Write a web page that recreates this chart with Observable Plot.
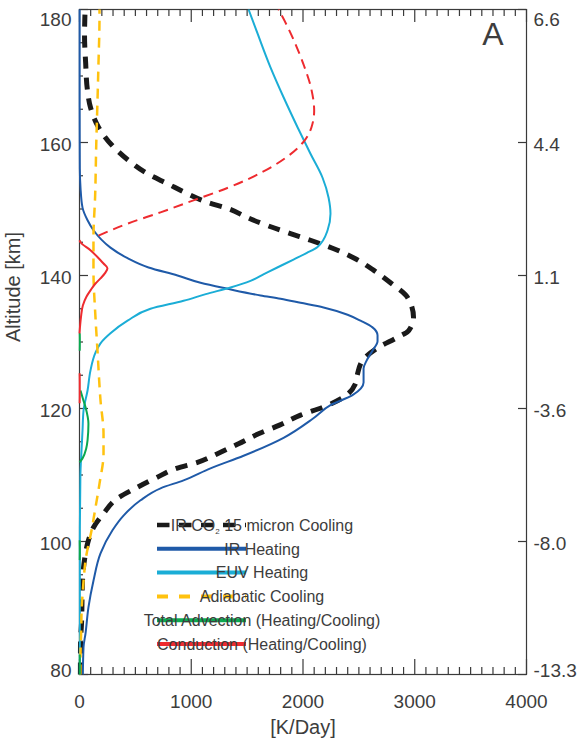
<!DOCTYPE html>
<html>
<head>
<meta charset="utf-8">
<script src="https://cdn.jsdelivr.net/npm/d3@7"></script>
<script src="https://cdn.jsdelivr.net/npm/@observablehq/plot@0.6"></script>
<style>
  body { margin: 0; background: #fff; }
  #chart { width: 582px; height: 746px; }
</style>
</head>
<body>
<div id="chart"></div>
<script>
// Heating / cooling rate profiles, altitude in km, rates in K/day.

// IR CO2 15 micron cooling (magnitude)
const irCoolAlt = [80, 84.7, 87.7, 94.1, 98.2, 100.2, 102.1, 104.2, 106.5, 108.0, 109.6, 111.0, 111.9, 113.2, 114.7, 116.2, 117.5, 119.0, 120.2, 121.7, 123.7, 125.0, 127.2, 129.2, 130.7, 131.7, 133.7, 136.7, 138.9, 140.8, 142.6, 143.8, 145.3, 146.3, 147.5, 148.7, 150.1, 151.0, 152.3, 153.8, 155.3, 157.3, 159.5, 162.3, 165.3, 168.0, 172.0, 176.0, 180];
const irCool    = [8, 9, 18, 27, 54, 80, 125, 215, 340, 501, 689, 868, 1056, 1235, 1423, 1602, 1790, 1978, 2180, 2363, 2468, 2485, 2533, 2676, 2846, 2945, 2989, 2936, 2783, 2631, 2460, 2309, 2067, 1888, 1683, 1504, 1325, 1146, 967, 788, 609, 439, 295, 170, 98, 70, 55, 45, 50];

// IR heating
const irHeatAlt = [80, 84.1, 86.2, 90.1, 94.1, 98.2, 101.7, 103.9, 106.2, 108.0, 109.2, 111.0, 112.9, 115.6, 118.5, 120.5, 122.0, 123.9, 126.0, 127.2, 128.7, 130.1, 131.0, 132.2, 133.2, 134.1, 135.2, 135.9, 136.5, 137.0, 138.0, 138.9, 140.0, 141.2, 142.6, 144.2, 146.8, 148.3, 150.2, 153.2, 156, 160, 170, 180];
const irHeat    = [30, 36, 54, 80, 125, 188, 295, 394, 546, 725, 931, 1172, 1468, 1826, 2090, 2246, 2443, 2542, 2542, 2569, 2622, 2667, 2667, 2622, 2515, 2399, 2184, 1978, 1799, 1620, 1325, 1083, 877, 618, 430, 277, 125, 72, 27, 9, 3, 2, 1, 1];

// EUV heating
const euvAlt = [80, 100, 110, 113.7, 116.7, 119.7, 122.7, 125.7, 128.4, 129.8, 131.3, 133.2, 135.0, 136.2, 137.2, 138.2, 139.2, 140.2, 141.2, 142.4, 143.4, 144.3, 146.8, 149.3, 151.7, 154.7, 158.3, 162.3, 166.8, 171.3, 176.4, 180];
const euv    = [3, 3, 8, 18, 27, 36, 72, 98, 143, 188, 277, 430, 635, 931, 1130, 1351, 1530, 1650, 1770, 1915, 2035, 2130, 2220, 2246, 2229, 2175, 2067, 1951, 1826, 1709, 1593, 1513];

// Adiabatic cooling (magnitude)
const adiabAlt = [80, 84, 87, 89.2, 93.1, 97.6, 101.7, 105.1, 108.7, 113.2, 116.2, 121.2, 128.7, 133.7, 140.8, 145.7, 152, 159.8, 166.3, 172, 178.8, 180];
const adiab    = [8, 10, 16, 18, 32, 58, 108, 143, 179, 215, 215, 188, 161, 143, 125, 125, 140, 150, 161, 170, 179, 179];

// Total advection, heating part only (null = not heating)
const advAlt = [80, 81.5, 83, 84, 97.2, 98.5, 100.2, 101, 111.9, 112.5, 114.0, 115.2, 117.7, 120.2, 121.5, 122.7, 124, 128.7, 130, 131.3];
const adv    = [3, 3, 2, null, 2, 3, 2, null, 0, 27, 60, 72, 80, 54, 30, 9, null, 2, 3, 2];

// Conduction heating (null = not heating)
const condHeatAlt = [120.8, 122, 124, 125.3, 126, 131.3, 133.7, 135.5, 136.8, 137.8, 138.8, 139.6, 140.4, 141.1, 141.8, 142.3, 143.8, 145.0, 145.3];
const condHeat    = [1, 2, 2, 1, null, 0, 13, 30, 62, 100, 143, 190, 230, 250, 215, 188, 98, 9, 0];

// Conduction cooling (magnitude)
const condCoolAlt = [146.0, 147.8, 149.5, 151.3, 153.2, 155.5, 157.7, 160.0, 162.3, 164.8, 168.0, 171.5, 174.5, 177.3, 180];
const condCool    = [170, 430, 725, 1020, 1330, 1630, 1845, 2000, 2076, 2100, 2075, 2010, 1940, 1865, 1781];

// Axis ticks and the pressure-scale labels on the right axis
const xMajor = [0, 1000, 2000, 3000, 4000];
const xMinor = d3.range(100, 4000, 100).filter(d => d % 1000 !== 0);
const yMajor = [80, 100, 120, 140, 160, 180];
const yMinor = d3.range(85, 180, 5).filter(d => d % 20 !== 0);
const rightLabels = ["-13.3", "-8.0", "-3.6", "1.1", "4.4", "6.6"];

const series = [
  {name: "IR CO\u2082 15 micron Cooling", alt: irCoolAlt, v: irCool, color: "#1a1a1a", width: 5, dash: "12,9", lw: 4.5, ldash: "12.5,9.5"},
  {name: "IR Heating", alt: irHeatAlt, v: irHeat, color: "#1f5aa8", width: 2, dash: null, lw: 4},
  {name: "EUV Heating", alt: euvAlt, v: euv, color: "#1badd6", width: 2, dash: null, lw: 4},
  {name: "Adiabatic Cooling", alt: adiabAlt, v: adiab, color: "#ffc20f", width: 2.5, dash: "10,7", lw: 4, ldash: "11,11"},
  {name: "Total Advection (Heating/Cooling)", alt: advAlt, v: adv, color: "#0aa84f", width: 2, dash: null, lw: 4},
  {name: "Conduction (Heating/Cooling)", alt: condHeatAlt, v: condHeat, color: "#ee2b2f", width: 2, dash: null, lw: 4}
];
const condCoolSeries = {alt: condCoolAlt, v: condCool, color: "#ee2b2f", width: 2, dash: "10,6"};

const rows = s => s.alt.map((a, i) => ({alt: a, v: s.v[i]}));
const lineMark = s => Plot.line(rows(s), {
  x: "v", y: "alt", stroke: s.color, strokeWidth: s.width,
  strokeDasharray: s.dash || undefined, strokeLinecap: "butt",
  curve: "monotone-y"
});

const W = 582, H = 746;
const M = {left: 79, right: 56, top: 9, bottom: 72};
const frameW = W - M.left - M.right;
const frameH = H - M.top - M.bottom;

const ink = "#3d3d3d";
const axisInk = "#3a3a3a";
const pressure = d => rightLabels[yMajor.indexOf(d)];

// short inward ticks: a full-length tick trimmed by insets to the given length
const ticksBottom = (values, len) => Plot.tickX(values, {x: d => d, insetTop: frameH - len, stroke: axisInk, strokeWidth: 1.2});
const ticksTop = (values, len) => Plot.tickX(values, {x: d => d, insetBottom: frameH - len, stroke: axisInk, strokeWidth: 1.2});
const ticksLeft = (values, len) => Plot.tickY(values, {y: d => d, insetRight: frameW - len, stroke: axisInk, strokeWidth: 1.2});
const ticksRight = (values, len) => Plot.tickY(values, {y: d => d, insetLeft: frameW - len, stroke: axisInk, strokeWidth: 1.2});

// tick labels placed at the scale positions, anchored to the frame edges
const leftLabels = (values, dy) => Plot.text(values, {y: d => d, text: d => String(d), frameAnchor: "left", textAnchor: "end", dx: -8, dy, fill: ink});
const rightTickLabels = (values, dy) => Plot.text(values, {y: d => d, text: pressure, frameAnchor: "right", textAnchor: "start", dx: 7, dy, fill: ink});

const chart = Plot.plot({
  width: W,
  height: H,
  marginLeft: M.left,
  marginRight: M.right,
  marginTop: M.top,
  marginBottom: M.bottom,
  x: {domain: [0, 4000], axis: null},
  y: {domain: [80, 180], axis: null},
  style: {fontFamily: "'Liberation Sans', Arial, Helvetica, sans-serif", fontSize: "19px", color: ink, background: "#fff"},
  marks: [
    Plot.frame({stroke: axisInk, strokeWidth: 1.2}),
    ticksBottom(xMinor, 7), ticksBottom(xMajor, 15),
    ticksTop(xMinor, 7), ticksTop(xMajor, 13),
    ticksLeft(yMinor, 4), ticksLeft(yMajor, 9),
    ticksRight(yMajor, 8),
    Plot.text(xMajor, {x: d => d, text: d => String(d), frameAnchor: "bottom", lineAnchor: "top", dy: 20, fill: ink}),
    leftLabels(yMajor.slice(1, -1), 2.5), leftLabels([180], 10), leftLabels([80], -4),
    rightTickLabels(yMajor.slice(1, -1), 2.5), rightTickLabels([180], 10), rightTickLabels([80], -4),
    // profiles
    ...series.map(lineMark),
    lineMark(condCoolSeries),
    // panel letter and axis titles
    Plot.text(["A"], {frameAnchor: "top-right", dx: -23, dy: 13, lineAnchor: "top", fontSize: 32, fill: ink}),
    Plot.text(["[K/Day]"], {frameAnchor: "bottom", dy: 59, fontSize: 20, fill: ink}),
    Plot.text(["Altitude [km]"], {frameAnchor: "left", dx: -66, rotate: -90, fontSize: 20, fill: ink})
  ]
});

document.getElementById("chart").appendChild(chart);

// Legend in the lower part of the panel
const legend = d3.select(chart).append("g")
  .attr("font-family", "'Liberation Sans', Arial, Helvetica, sans-serif")
  .attr("font-size", 16);

series.forEach((s, i) => {
  const yy = 525 + i * 23.8;
  legend.append("line")
    .attr("x1", 157).attr("x2", 246).attr("y1", yy).attr("y2", yy)
    .attr("stroke", s.color).attr("stroke-width", s.lw)
    .attr("stroke-dasharray", s.ldash || null);
  const t = legend.append("text").attr("x", 262).attr("y", yy + 5.8).attr("fill", ink);
  if (i === 0) {
    t.append("tspan").text("IR CO");
    t.append("tspan").text("2").attr("font-size", 8).attr("dy", 3);
    t.append("tspan").text(" 15 micron Cooling").attr("dy", -3);
  } else {
    t.text(s.name);
  }
});
</script>
</body>
</html>
